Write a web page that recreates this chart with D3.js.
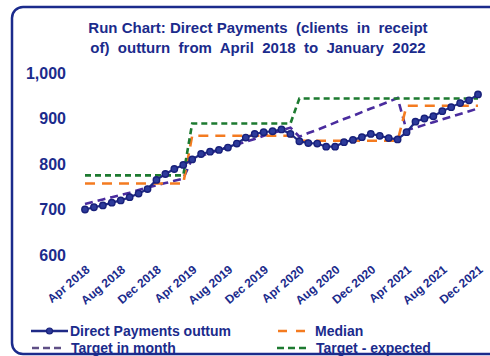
<!DOCTYPE html>
<html>
<head>
<meta charset="utf-8">
<script src="https://cdn.jsdelivr.net/npm/d3@7"></script>
<style>
  html, body { margin: 0; padding: 0; background: #ffffff; }
  svg { display: block; }
  text { font-family: Arial, "Liberation Sans", sans-serif; font-weight: bold; fill: #1b2b8c; }
</style>
</head>
<body>
<svg id="chart" width="490" height="356"></svg>
<script>
// Monthly categories, April 2018 to December 2021
const months = d3.timeMonth.range(new Date(2018, 3, 1), new Date(2022, 0, 1));

// Direct Payments (clients in receipt of) – monthly outturn
const outturn = [
  700, 705, 709, 715, 720, 727, 735, 745, 765, 778, 789, 798,
  810, 822, 827, 831, 836, 845, 858, 866, 870, 872, 876, 866,
  850, 846, 845, 838, 838, 848, 853, 859, 866, 862, 857, 854,
  870, 893, 900, 905, 916, 925, 934, 940, 953
];

// Median of each financial year
const median = [
  757, 757, 757, 757, 757, 757, 757, 757, 757, 757, 757, 757,
  862, 862, 862, 862, 862, 862, 862, 862, 862, 862, 862, 862,
  851, 851, 851, 851, 851, 851, 851, 851, 851, 851, 851, 851,
  928, 928, 928, 928, 928, 928, 928, 928, 928
];

// Monthly target trajectory
const targetMonth = [
  712, 717, 722, 727, 732, 737, 743, 748, 753, 758, 763, 768,
  812, 818, 824, 831, 837, 843, 849, 855, 862, 868, 874, 880,
  860, 868, 875, 883, 891, 899, 906, 914, 922, 929, 937, 945,
  874, 880, 886, 892, 898, 904, 910, 916, 922
];

// Expected year-end target
const targetExpected = [
  775, 775, 775, 775, 775, 775, 775, 775, 775, 775, 775, 775,
  889, 889, 889, 889, 889, 889, 889, 889, 889, 889, 889, 889,
  944, 944, 944, 944, 944, 944, 944, 944, 944, 944, 944, 944,
  944, 944, 944, 944, 944, 944, 944, 944, 944
];

const yTicks = [600, 700, 800, 900, 1000];
const xTickLabels = [
  "Apr 2018", "Aug 2018", "Dec 2018", "Apr 2019", "Aug 2019", "Dec 2019",
  "Apr 2020", "Aug 2020", "Dec 2020", "Apr 2021", "Aug 2021", "Dec 2021"
];
const titleLines = [
  "Run Chart: Direct Payments  (clients  in  receipt",
  "of)  outturn  from  April  2018  to  January  2022"
];

const fmtMonth = d3.timeFormat("%b %Y");
const labels = months.map(fmtMonth);

const svg = d3.select("#chart");

const colors = {
  outturn: "#1f2a86",
  marker: "#18207a",
  median: "#f47b20",
  targetMonth: "#4a2c9e",
  targetExpected: "#1d7a30",
  frame: "#1b2b8c"
};

// Scales
const x = d3.scalePoint().domain(labels).range([85, 478]);
const y = d3.scaleLinear().domain([600, 1000]).range([255, 73]);

// Title
svg.append("g").selectAll("text")
  .data(titleLines)
  .join("text")
  .attr("x", 258)
  .attr("y", (d, i) => 33 + i * 20)
  .attr("text-anchor", "middle")
  .style("font-size", "15px")
  .style("white-space", "pre")
  .text(d => d);

// Y axis (labels only)
const yAxis = svg.append("g")
  .attr("transform", "translate(66,0)")
  .call(d3.axisLeft(y).tickValues(yTicks).tickFormat(d3.format(",")).tickSize(0).tickPadding(0));
yAxis.select(".domain").remove();
yAxis.selectAll("text")
  .style("font-size", "16px")
  .style("font-family", "Arial, 'Liberation Sans', sans-serif")
  .attr("fill", "#1b2b8c");

// X axis (rotated labels every four months)
const xAxis = svg.append("g")
  .attr("transform", "translate(0,262)")
  .call(d3.axisBottom(x).tickValues(xTickLabels).tickSize(0));
xAxis.select(".domain").remove();
xAxis.selectAll("text")
  .attr("text-anchor", "end")
  .attr("dy", null)
  .attr("y", 0)
  .attr("transform", "translate(5,9) rotate(-40)")
  .style("font-size", "12px")
  .style("font-family", "Arial, 'Liberation Sans', sans-serif")
  .attr("fill", "#1b2b8c");

const line = d3.line().x((d, i) => x(labels[i])).y(d => y(d));

// Target and median lines
svg.append("path").datum(targetMonth)
  .attr("d", line).attr("fill", "none")
  .attr("stroke", colors.targetMonth).attr("stroke-width", 2.6)
  .attr("stroke-dasharray", "8,5");

svg.append("path").datum(median)
  .attr("d", line).attr("fill", "none")
  .attr("stroke", colors.median).attr("stroke-width", 2.6)
  .attr("stroke-dasharray", "10,7");

svg.append("path").datum(targetExpected)
  .attr("d", line).attr("fill", "none")
  .attr("stroke", colors.targetExpected).attr("stroke-width", 2.6)
  .attr("stroke-dasharray", "6,4");

// Outturn line with markers
svg.append("path").datum(outturn)
  .attr("d", line).attr("fill", "none")
  .attr("stroke", colors.outturn).attr("stroke-width", 2.2);

svg.append("g").selectAll("circle")
  .data(outturn)
  .join("circle")
  .attr("cx", (d, i) => x(labels[i]))
  .attr("cy", d => y(d))
  .attr("r", 3.2)
  .attr("fill", "#2d3a9a")
  .attr("stroke", colors.marker)
  .attr("stroke-width", 1.4);

// Legend
const legendItems = [
  { name: "Direct Payments outtum", color: colors.outturn, dash: null, marker: true, lx: 31, ly: 331, tx: 70 },
  { name: "Median", color: colors.median, dash: "9,9", marker: false, lx: 278, ly: 331, tx: 315 },
  { name: "Target in month", color: "#5f4f86", dash: "7,4", marker: false, lx: 32, ly: 348, tx: 71 },
  { name: "Target - expected", color: colors.targetExpected, dash: "7,4", marker: false, lx: 277, ly: 348, tx: 316 }
];

const legend = svg.append("g");
legendItems.forEach(it => {
  const len = it.marker ? 37 : 30;
  legend.append("line")
    .attr("x1", it.lx).attr("x2", it.lx + len)
    .attr("y1", it.ly).attr("y2", it.ly)
    .attr("stroke", it.color).attr("stroke-width", 2.6)
    .attr("stroke-dasharray", it.dash);
  if (it.marker) {
    legend.append("circle")
      .attr("cx", it.lx + len / 2).attr("cy", it.ly).attr("r", 3)
      .attr("fill", "#2d3a9a").attr("stroke", colors.marker).attr("stroke-width", 1.2);
  }
  legend.append("text")
    .attr("x", it.tx).attr("y", it.ly + 5)
    .style("font-size", "14px")
    .text(it.name);
});

// Rounded frame around the chart area
svg.append("rect")
  .attr("x", 12).attr("y", 7)
  .attr("width", 500).attr("height", 347)
  .attr("rx", 11).attr("ry", 11)
  .attr("fill", "none")
  .attr("stroke", colors.frame)
  .attr("stroke-width", 2.5);
</script>
</body>
</html>
